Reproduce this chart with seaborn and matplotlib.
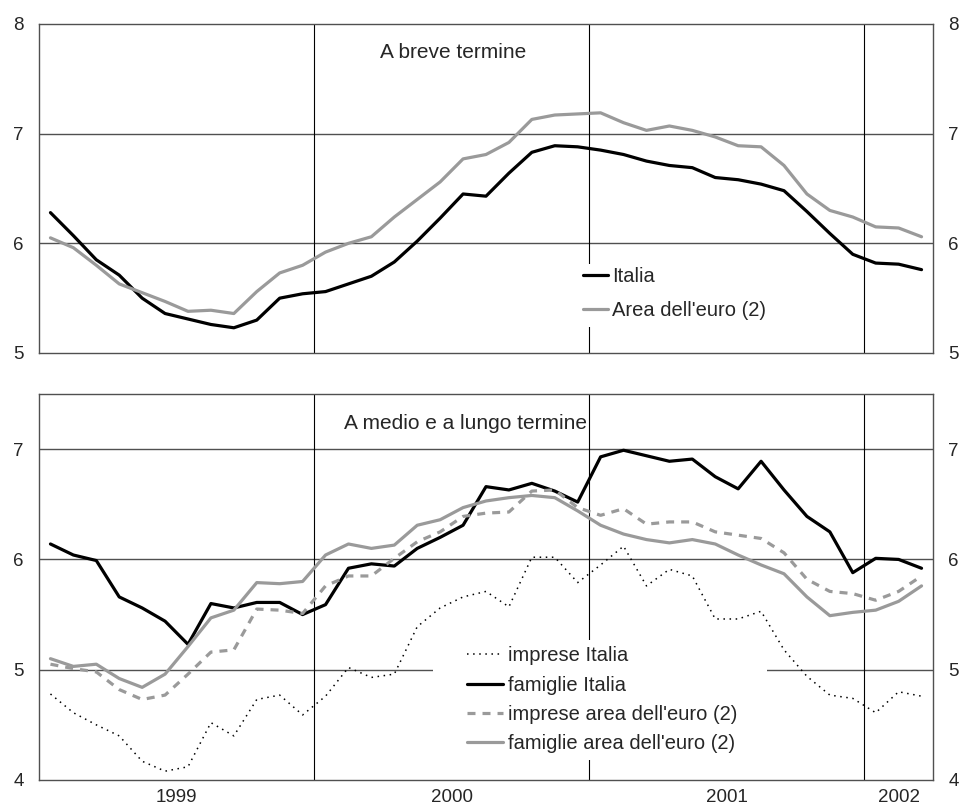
import numpy as np
import pandas as pd
import matplotlib
matplotlib.use("Agg")
import matplotlib.pyplot as plt
import seaborn as sns
from matplotlib.patches import Rectangle

# ---------------- data (monthly, Jan 1999 - Mar 2002) ----------------
months = pd.date_range("1999-01-01", periods=39, freq="MS")

breve_italia = [6.28, 6.07, 5.85, 5.71, 5.50, 5.36, 5.31, 5.26, 5.23, 5.30, 5.50, 5.54,
                5.56, 5.63, 5.70, 5.83, 6.02, 6.23, 6.45, 6.43, 6.64, 6.83, 6.89, 6.88,
                6.85, 6.81, 6.75, 6.71, 6.69, 6.60, 6.58, 6.54, 6.48, 6.29, 6.09, 5.90,
                5.82, 5.81, 5.76]
breve_euro = [6.05, 5.96, 5.80, 5.63, 5.55, 5.47, 5.38, 5.39, 5.36, 5.56, 5.73, 5.80,
              5.92, 6.00, 6.06, 6.24, 6.40, 6.56, 6.77, 6.81, 6.92, 7.13, 7.17, 7.18,
              7.19, 7.10, 7.03, 7.07, 7.03, 6.97, 6.89, 6.88, 6.71, 6.45, 6.30, 6.24,
              6.15, 6.14, 6.06]

imprese_italia = [4.78, 4.61, 4.50, 4.40, 4.17, 4.08, 4.12, 4.52, 4.40, 4.73, 4.77, 4.59,
                  4.76, 5.02, 4.93, 4.96, 5.39, 5.56, 5.66, 5.71, 5.57, 6.02, 6.02, 5.79,
                  5.95, 6.12, 5.76, 5.91, 5.85, 5.46, 5.46, 5.53, 5.18, 4.94, 4.77, 4.74,
                  4.61, 4.80, 4.76]
famiglie_italia = [6.14, 6.04, 5.99, 5.66, 5.56, 5.44, 5.23, 5.60, 5.56, 5.61, 5.61, 5.50,
                   5.59, 5.92, 5.96, 5.94, 6.10, 6.20, 6.31, 6.66, 6.63, 6.69, 6.62, 6.52,
                   6.93, 6.99, 6.94, 6.89, 6.91, 6.75, 6.64, 6.89, 6.63, 6.39, 6.25, 5.88,
                   6.01, 6.00, 5.92]
imprese_euro = [5.05, 5.01, 4.98, 4.82, 4.73, 4.77, 4.96, 5.16, 5.18, 5.55, 5.54, 5.51,
                5.76, 5.85, 5.85, 6.01, 6.16, 6.25, 6.39, 6.42, 6.43, 6.62, 6.63, 6.47,
                6.40, 6.46, 6.32, 6.34, 6.34, 6.25, 6.22, 6.19, 6.06, 5.82, 5.71, 5.69,
                5.63, 5.71, 5.85]
famiglie_euro = [5.10, 5.03, 5.05, 4.92, 4.84, 4.96, 5.21, 5.47, 5.54, 5.79, 5.78, 5.80,
                 6.04, 6.14, 6.10, 6.13, 6.31, 6.36, 6.47, 6.53, 6.56, 6.58, 6.56, 6.44,
                 6.31, 6.23, 6.18, 6.15, 6.18, 6.14, 6.04, 5.95, 5.87, 5.66, 5.49, 5.52,
                 5.54, 5.62, 5.76]

year_labels = ["1999", "2000", "2001", "2002"]
title_top = "A breve termine"
title_bottom = "A medio e a lungo termine"

# ---------------- style ----------------
sns.set_style("white")
plt.rcParams["font.family"] = ["Liberation Sans", "DejaVu Sans"]
plt.rcParams["font.size"] = 13.5

TICK_FS = 13.5
LEG_FS = 14.5
TITLE_FS = 15

x = np.arange(len(months))
GRAY = "#9a9a9a"
GRID = "#505050"

fig = plt.figure(figsize=(9.59, 8.07), dpi=100)
ax1 = fig.add_axes([39 / 959, (807 - 353) / 807, 894 / 959, 329 / 807])
ax2 = fig.add_axes([39 / 959, (807 - 780) / 807, 894 / 959, 386 / 807])


def frame(ax, ylo, yhi, labels):
    ax.set_xlim(-0.5, len(months) - 0.5)
    ax.set_ylim(ylo, yhi)
    for s in ax.spines.values():
        s.set_color(GRID)
        s.set_linewidth(1.0)
    ax.set_yticks(range(ylo, int(yhi) + 1))
    ax.tick_params(axis="y", length=0, labelleft=True, labelright=True,
                   pad=11, labelsize=TICK_FS)
    # month ticks (minor) and year-centre ticks (major)
    ax.set_xticks(np.arange(0.5, len(months) - 1, 1.0), minor=True)
    ax.set_xticks([5.5, 17.5, 29.5, 37.0])
    ax.set_xticklabels(year_labels if labels else ["", "", "", ""])
    ax.tick_params(axis="x", which="minor", direction="in", length=5,
                   width=0.9, color=GRID)
    ax.tick_params(axis="x", which="major", direction="in", length=8,
                   width=0.9, color=GRID, pad=6.5, labelsize=TICK_FS)
    ax.xaxis.get_major_ticks()[-1].tick1line.set_visible(False)
    for yv in range(ylo + 1, int(np.ceil(yhi))):
        if yv < yhi:
            ax.axhline(yv, color=GRID, lw=1.0, zorder=1)
    for xv in (11.5, 23.5, 35.5):
        ax.axvline(xv, color="black", lw=0.8, zorder=1)


frame(ax1, 5, 8, labels=False)
frame(ax2, 4, 7.5, labels=True)

# ---------------- top panel ----------------
sns.lineplot(x=x, y=breve_italia, ax=ax1, color="black", lw=2.3,
             label="Italia", zorder=3)
sns.lineplot(x=x, y=breve_euro, ax=ax1, color=GRAY, lw=2.3,
             label="Area dell'euro (2)", zorder=3)
ax1.add_patch(Rectangle((0.60, 0.079), 0.22, 0.19, transform=ax1.transAxes,
                        facecolor="white", edgecolor="none", zorder=2))
ax1.legend(loc="upper left", bbox_to_anchor=(0.6085, 0.2614), frameon=False,
           borderaxespad=0, borderpad=0, handlelength=1.25, handletextpad=0.2,
           labelspacing=0.75, fontsize=LEG_FS)
fig.text(453 / 959, 1 - 53 / 807, title_top, fontsize=TITLE_FS,
         ha="center", va="center")

# ---------------- bottom panel ----------------
sns.lineplot(x=x, y=imprese_italia, ax=ax2, color="black", lw=1.1,
             linestyle=(0, (1, 3)), label="imprese Italia", zorder=3)
sns.lineplot(x=x, y=famiglie_italia, ax=ax2, color="black", lw=2.3,
             label="famiglie Italia", zorder=3)
sns.lineplot(x=x, y=imprese_euro, ax=ax2, color=GRAY, lw=2.3,
             linestyle=(0, (2.5, 2.2)), label="imprese area dell'euro (2)", zorder=3)
sns.lineplot(x=x, y=famiglie_euro, ax=ax2, color=GRAY, lw=2.3,
             label="famiglie area dell'euro (2)", zorder=3)
ax2.add_patch(Rectangle((0.4407, 0.0518), 0.3736, 0.311, transform=ax2.transAxes,
                        facecolor="white", edgecolor="none", zorder=2))
ax2.legend(loc="upper left", bbox_to_anchor=(0.4787, 0.3459), frameon=False,
           borderaxespad=0, borderpad=0, handlelength=1.8, handletextpad=0.25,
           labelspacing=0.5, fontsize=LEG_FS)
fig.text(465.5 / 959, 1 - 424 / 807, title_bottom, fontsize=TITLE_FS,
         ha="center", va="center")

fig.savefig("out.png", dpi=100)
